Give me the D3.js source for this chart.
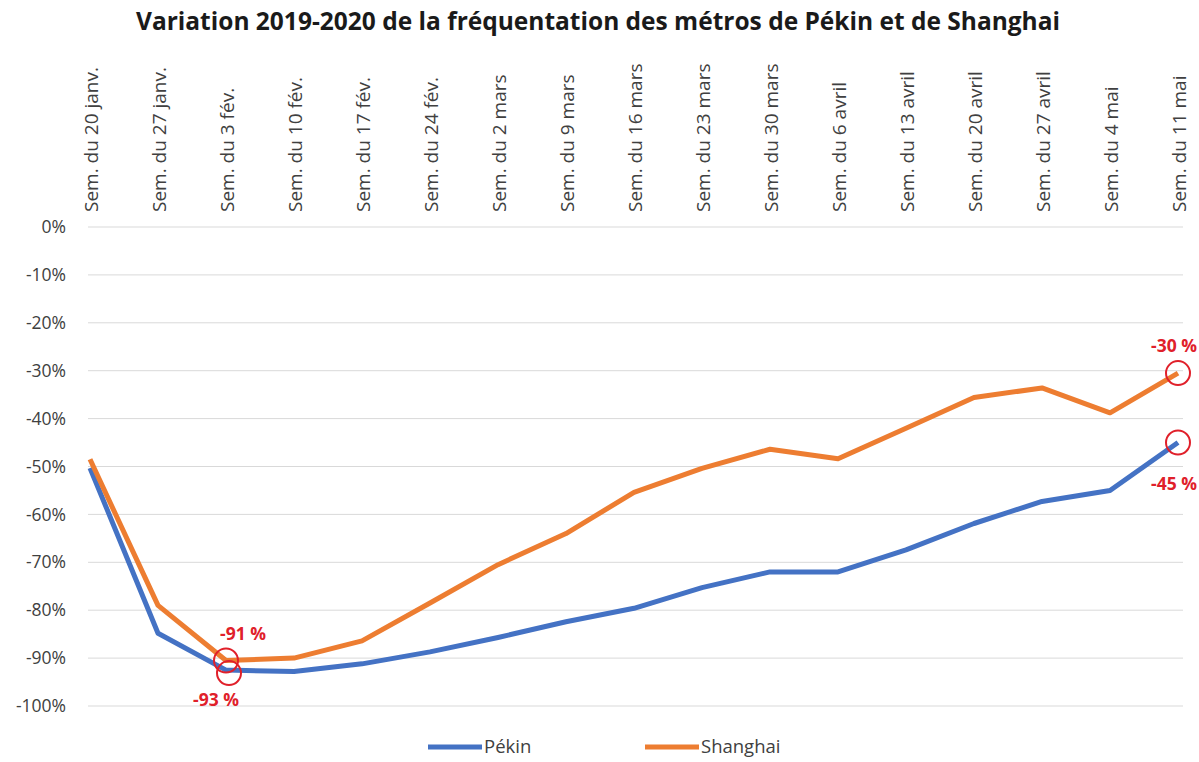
<!DOCTYPE html>
<html>
<head>
<meta charset="utf-8">
<script src="https://cdn.jsdelivr.net/npm/d3@7"></script>
<style>
  body { margin: 0; background: #fff; }
  text { font-family: "Open Sans", "Noto Sans", sans-serif; }
</style>
</head>
<body>
<svg id="chart" width="1199" height="762"></svg>
<script>
// weeks (x categories)
const weeks = ["Sem. du 20 janv.", "Sem. du 27 janv.", "Sem. du 3 fév.", "Sem. du 10 fév.",
  "Sem. du 17 fév.", "Sem. du 24 fév.", "Sem. du 2 mars", "Sem. du 9 mars", "Sem. du 16 mars",
  "Sem. du 23 mars", "Sem. du 30 mars", "Sem. du 6 avril", "Sem. du 13 avril", "Sem. du 20 avril",
  "Sem. du 27 avril", "Sem. du 4 mai", "Sem. du 11 mai"];

// variation in %
const pekin = [-50.3, -84.8, -92.5, -92.8, -91.2, -88.7, -85.7, -82.4, -79.6, -75.3, -72, -72,
  -67.4, -61.9, -57.3, -55, -45];
const shanghai = [-48.5, -79, -90.5, -90, -86.4, -78.5, -70.5, -64, -55.4, -50.4, -46.4, -48.4,
  -42, -35.6, -33.6, -38.8, -30.5];

const yTicks = [0, -10, -20, -30, -40, -50, -60, -70, -80, -90, -100];

// highlighted points : [series, index, label, dx, dy]
const notes = [
  ["shanghai", 2, "-91 %", 17, -20],
  ["pekin", 2, "-93 %", -13, 33],
  ["shanghai", 16, "-30 %", -4, -21],
  ["pekin", 16, "-45 %", -4, 47]
];

const blue = "#4472c4", orange = "#ed7d31", red = "#e0202a";

const svg = d3.select("#chart");

const x = d3.scalePoint().domain(weeks).range([90, 1178]);
const y = d3.scaleLinear().domain([-100, 0]).range([706, 227]);

// title
svg.append("text")
  .attr("x", 598).attr("y", 30)
  .attr("text-anchor", "middle")
  .style("font-size", "24.5px").style("font-weight", "bold").style("fill", "#1a1a1a")
  .text("Variation 2019-2020 de la fréquentation des métros de Pékin et de Shanghai");

// grid lines
svg.append("g")
  .selectAll("line")
  .data(yTicks)
  .join("line")
  .attr("x1", 88).attr("x2", 1183)
  .attr("y1", d => y(d)).attr("y2", d => y(d))
  .attr("stroke", "#d9d9d9").attr("stroke-width", 1);

// y axis labels
svg.append("g")
  .selectAll("text")
  .data(yTicks)
  .join("text")
  .attr("x", 66).attr("y", d => y(d))
  .attr("dy", "0.35em")
  .attr("text-anchor", "end")
  .style("font-size", "17.5px").style("fill", "#404040")
  .text(d => d + "%");

// x axis labels (rotated, at the top)
svg.append("g")
  .selectAll("text")
  .data(weeks)
  .join("text")
  .attr("transform", d => "translate(" + (x(d) + 1) + ",212) rotate(-90)")
  .attr("dy", "0.35em")
  .attr("text-anchor", "start")
  .style("font-size", "19px").style("fill", "#404040")
  .text(d => d);

const line = d3.line()
  .x((d, i) => x(weeks[i]))
  .y(d => y(d));

const series = { pekin: pekin, shanghai: shanghai };

svg.append("path")
  .datum(pekin)
  .attr("d", line)
  .attr("fill", "none").attr("stroke", blue).attr("stroke-width", 5)
  .attr("stroke-linejoin", "round");

svg.append("path")
  .datum(shanghai)
  .attr("d", line)
  .attr("fill", "none").attr("stroke", orange).attr("stroke-width", 5)
  .attr("stroke-linejoin", "round");

// annotations
const ann = svg.append("g");
notes.forEach(([s, i, label, dx, dy]) => {
  const shift = (i === 2 && s === "pekin") ? 3 : 0;
  const cx = x(weeks[i]) + shift;
  const cy = y(series[s][i]) + shift;
  ann.append("circle")
    .attr("cx", cx).attr("cy", cy).attr("r", 12)
    .attr("fill", "none").attr("stroke", red).attr("stroke-width", 2);
  ann.append("text")
    .attr("x", cx + dx)
    .attr("y", cy + dy)
    .attr("text-anchor", "middle")
    .style("font-size", "17.5px").style("font-weight", "bold").style("fill", red)
    .text(label);
});

// legend
const legend = [["Pékin", blue, 428], ["Shanghai", orange, 645]];
const lg = svg.append("g");
legend.forEach(([name, color, lx]) => {
  lg.append("line")
    .attr("x1", lx).attr("x2", lx + 54)
    .attr("y1", 747).attr("y2", 747)
    .attr("stroke", color).attr("stroke-width", 5);
  lg.append("text")
    .attr("x", lx + 56).attr("y", 747).attr("dy", "0.35em")
    .style("font-size", "18.5px").style("fill", "#404040")
    .text(name);
});
</script>
</body>
</html>
